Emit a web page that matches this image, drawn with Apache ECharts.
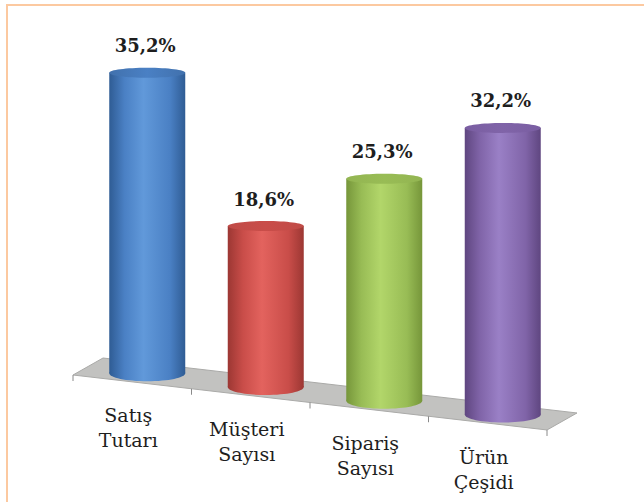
<!DOCTYPE html>
<html>
<head>
<meta charset="utf-8">
<script src="https://cdn.jsdelivr.net/npm/echarts@6/dist/echarts.min.js"></script>
<style>
  html, body { margin: 0; padding: 0; background: #fff; }
  #frame { position: absolute; left: 6px; top: 4px; right: 0; bottom: 0; border-top: 2px solid #fcc9a0; border-left: 2px solid #fcc9a0; }
  #chart { position: absolute; left: 0; top: 0; width: 644px; height: 502px; }
</style>
</head>
<body>
<div id="frame"></div>
<div id="chart"></div>
<script>
// data
const categories = ['Satış\nTutarı', 'Müşteri\nSayısı', 'Sipariş\nSayısı', 'Ürün\nÇeşidi'];
const values = [35.2, 18.6, 25.3, 32.2];
const valueLabels = ['35,2%', '18,6%', '25,3%', '32,2%'];

// cylinder colours: [edge, mid, light, top]
const palette = [
  ['#2f5c94', '#4a80c4', '#6199da', '#4171ad'],
  ['#9c3733', '#c94d49', '#e3635e', '#c04b47'],
  ['#76963a', '#98bc55', '#b2d66a', '#93b552'],
  ['#5f4680', '#8064a8', '#9a80c6', '#7a5ea2']
];

const slope = 0.116;     // front edge of the floor drops to the right
const depth = [30, -17]; // floor depth vector
const rx = 38, ryTop = 5, ryBot = 8;

function sideGrad(c) {
  return new echarts.graphic.LinearGradient(0, 0, 1, 0, [
    { offset: 0, color: c[0] },
    { offset: 0.2, color: c[1] },
    { offset: 0.45, color: c[2] },
    { offset: 0.8, color: c[1] },
    { offset: 1, color: c[0] }
  ]);
}

const chart = echarts.init(document.getElementById('chart'), null, { renderer: 'svg' });

chart.setOption({
  animation: false,
  grid: { left: 73, width: 474, top: 33.4, height: 341.6, outerBoundsMode: 'none' },
  xAxis: { type: 'category', data: categories, show: false },
  yAxis: { type: 'value', min: 0, max: 40, show: false },
  series: [
    {
      // floor
      type: 'custom',
      clip: false,
      silent: true,
      data: [[0, 0]],
      renderItem: function (params, api) {
        const cs = params.coordSys;
        const x0 = cs.x, x1 = cs.x + cs.width, y0 = cs.y + cs.height;
        const y1 = y0 + cs.width * slope;
        const children = [{
          type: 'polygon',
          shape: { points: [[x0, y0], [x1, y1], [x1 + depth[0], y1 + depth[1]], [x0 + depth[0], y0 + depth[1]]] },
          style: { fill: '#c2c2c0', stroke: '#aaaaa8', lineWidth: 1 }
        }];
        for (let i = 0; i <= categories.length; i++) {
          const tx = x0 + cs.width * i / categories.length;
          const ty = y0 + (tx - x0) * slope;
          children.push({ type: 'line', shape: { x1: tx, y1: ty, x2: tx, y2: ty + 6 }, style: { stroke: '#8a8a8a', lineWidth: 1 } });
        }
        return { type: 'group', children: children };
      }
    },
    {
      type: 'custom',
      clip: false,
      data: values.map(function (v, i) { return [i, v]; }),
      encode: { x: 0, y: 1 },
      renderItem: function (params, api) {
        const cs = params.coordSys;
        const i = api.value(0);
        const v = api.value(1);
        const base = api.coord([i, 0]);
        const fx = base[0];
        const fy = base[1] + (fx - cs.x) * slope;
        const bx = fx + depth[0] / 2;
        const by = fy + depth[1] / 2;
        const h = api.size([0, v])[1] * (1 + (bx - 147) * 0.00012);
        const ty = by - h;
        const c = palette[i];
        return {
          type: 'group',
          children: [
            { type: 'ellipse', shape: { cx: bx, cy: by, rx: rx, ry: ryBot }, style: { fill: sideGrad(c) } },
            { type: 'rect', shape: { x: bx - rx, y: ty, width: rx * 2, height: h }, style: { fill: sideGrad(c) } },
            { type: 'ellipse', shape: { cx: bx, cy: ty, rx: rx, ry: ryTop },
              style: { fill: new echarts.graphic.LinearGradient(0, 0, 1, 0, [
                { offset: 0, color: c[3] }, { offset: 0.5, color: c[1] }, { offset: 1, color: c[3] }]) } },
            { type: 'text', style: { text: valueLabels[i], x: bx - 2, y: ty - 27, align: 'center', verticalAlign: 'middle',
              font: 'bold 18px "DejaVu Serif"', fill: '#1e1e1e' } },
            { type: 'text', style: { text: categories[i], x: fx - 4, y: fy + 21, align: 'center', verticalAlign: 'top',
              font: '19px "DejaVu Serif"', lineHeight: 25, fill: '#1e1e1e' } }
          ]
        };
      }
    }
  ]
});
</script>
</body>
</html>
